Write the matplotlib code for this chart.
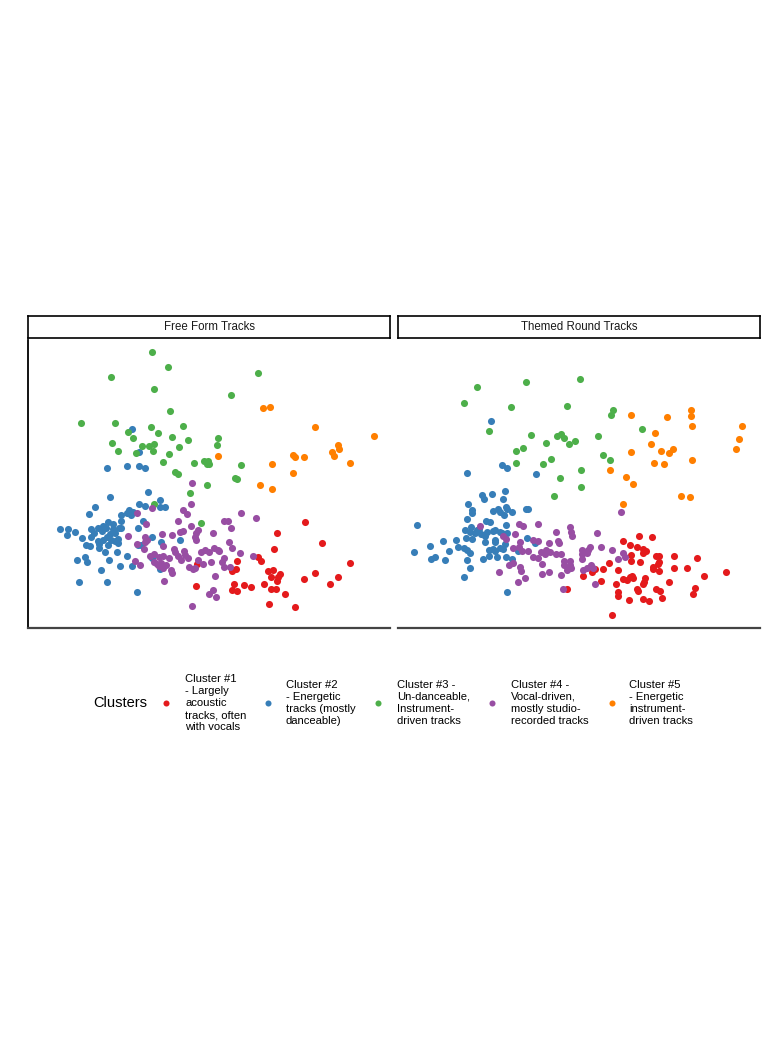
import numpy as np
import matplotlib
matplotlib.use("Agg")
import matplotlib.pyplot as plt

plt.rcParams['font.family'] = ['Liberation Sans', 'DejaVu Sans']

# cluster colours (Set1) and names
cluster_colors = ["#E41A1C", "#377EB8", "#4DAF4A", "#984EA3", "#FF7F00"]
cluster_labels = [
    "Cluster #1\n- Largely\nacoustic\ntracks, often\nwith vocals",
    "Cluster #2\n- Energetic\ntracks (mostly\ndanceable)",
    "Cluster #3 -\nUn-danceable,\nInstrument-\ndriven tracks",
    "Cluster #4 -\nVocal-driven,\nmostly studio-\nrecorded tracks",
    "Cluster #5\n- Energetic\ninstrument-\ndriven tracks",
]
panel_titles = ["Free Form Tracks", "Themed Round Tracks"]

# ---- Free Form Tracks (x, y) ----
free_c1 = [(169,64),(168,42),(277,106),(249,95),(294,85),(246,79),(230,71),(233,67),
           (209,67),(322,65),(208,59),(204,57),(240,57),(245,58),(252,54),(250,51),
           (249,47),(243,51),(287,55),(276,49),(310,51),(302,44),(206,44),(216,43),
           (223,41),(236,44),(204,38),(209,37),(243,39),(248,39),(257,34),(241,24),(267,21)]
free_c2 = [(104,199),(111,176),(79,160),(99,162),(111,162),(117,160),(120,136),(82,131),
           (132,128),(111,124),(117,122),(132,121),(137,121),(67,121),(61,114),(101,118),
           (99,115),(103,113),(105,116),(93,113),(93,107),(115,107),(80,106),(85,104),
           (75,102),(70,100),(32,99),(40,99),(39,93),(47,96),(63,99),(66,95),(74,97),
           (78,100),(85,99),(87,95),(91,100),(93,100),(82,94),(79,91),(75,88),(70,87),
           (54,90),(63,91),(62,82),(58,83),(71,84),(71,80),(80,83),(83,88),(87,87),
           (90,89),(90,85),(77,76),(89,76),(99,72),(110,83),(113,83),(110,100),(124,91),
           (133,86),(152,88),(57,71),(59,66),(49,68),(81,68),(124,70),(73,58),(92,62),
           (104,62),(132,59),(51,46),(79,46),(109,36)]
free_c3 = [(124,276),(140,261),(83,251),(126,239),(230,255),(203,233),(142,217),(53,205),
           (87,205),(123,201),(155,202),(100,196),(130,195),(105,190),(144,191),(160,188),
           (190,190),(189,183),(84,185),(114,182),(121,182),(126,184),(151,181),(90,177),
           (108,175),(125,177),(141,174),(135,166),(166,165),(176,167),(180,167),(179,164),
           (181,164),(213,163),(147,156),(150,154),(207,150),(209,149),(179,143),(162,135),
           (126,124),(173,105)]
free_c4 = [(164,145),(163,124),(109,115),(124,120),(155,118),(159,114),(150,107),(118,104),
           (163,102),(155,97),(152,96),(170,98),(168,95),(167,91),(168,88),(196,107),
           (200,107),(185,95),(134,94),(144,93),(100,92),(117,91),(119,88),(117,86),
           (109,84),(116,79),(135,82),(146,79),(147,76),(156,77),(173,76),(177,78),
           (181,76),(186,80),(190,78),(191,77),(122,72),(126,74),(131,71),(135,72),
           (141,70),(150,72),(153,68),(157,73),(160,70),(107,67),(112,63),(126,66),
           (129,64),(133,65),(138,63),(131,62),(135,60),(170,68),(175,64),(183,66),
           (196,70),(194,66),(196,61),(161,61),(165,59),(167,60),(143,58),(144,55),
           (136,47),(187,52),(185,38),(181,34),(188,31),(164,22),(213,115),(228,110),
           (203,100),(201,86),(204,80),(212,75),(225,72),(202,61)]
free_c5 = [(235,220),(242,221),(287,201),(346,192),(310,183),(311,179),(304,176),(306,172),
           (265,173),(267,171),(276,171),(322,165),(190,172),(244,164),(265,155),(232,143),
           (244,139)]

# ---- Themed Round Tracks (x, y) ----
themed_c1 = [(185,52),(194,56),(197,59),(169,39),(241,92),(254,91),(225,87),(232,83),
             (239,81),(245,79),(248,77),(245,75),(233,73),(233,67),(242,66),(211,65),
             (205,59),(220,58),(258,72),(261,72),(261,66),(260,64),(255,61),(255,59),
             (261,57),(276,72),(276,60),(289,60),(299,70),(328,56),(306,52),(203,47),
             (225,49),(229,48),(232,51),(235,50),(234,52),(247,50),(246,46),(245,44),
             (218,44),(271,46),(220,36),(220,32),(239,39),(240,37),(258,39),(262,37),
             (297,40),(295,34),(231,28),(245,29),(251,27),(264,30),(214,13)]
themed_c2 = [(93,207),(69,155),(104,163),(109,160),(138,154),(84,133),(86,129),(94,134),
             (107,137),(105,129),(70,124),(74,118),(74,115),(95,117),(100,119),(102,116),
             (106,113),(108,121),(109,119),(114,116),(128,119),(130,119),(69,109),(88,107),
             (92,106),(108,103),(73,101),(67,98),(72,96),(79,98),(81,99),(77,95),(83,94),
             (87,92),(89,96),(95,97),(97,98),(102,96),(104,95),(109,95),(68,90),(74,89),
             (87,86),(97,88),(97,86),(107,84),(19,103),(32,82),(45,87),(58,88),(60,81),
             (66,80),(69,78),(72,75),(51,77),(16,76),(37,71),(33,69),(47,68),(69,68),
             (85,69),(91,78),(95,79),(97,77),(91,72),(99,71),(102,80),(105,79),(108,71),
             (114,69),(120,77),(129,90),(137,85),(72,60),(66,51),(109,36)]
themed_c3 = [(79,241),(128,246),(182,249),(66,225),(113,221),(169,222),(215,218),(213,213),
             (244,199),(91,197),(133,193),(159,192),(163,194),(166,190),(177,187),(171,184),
             (200,192),(148,185),(125,180),(118,177),(205,173),(212,168),(153,169),(145,164),
             (118,165),(183,158),(162,150),(183,141),(156,132)]
themed_c4 = [(82,102),(105,92),(108,89),(121,104),(125,102),(140,104),(117,94),(122,86),
             (121,81),(115,80),(124,77),(130,77),(135,88),(140,87),(135,71),(140,70),
             (143,76),(148,78),(147,74),(152,76),(151,85),(160,87),(161,85),(158,96),
             (172,101),(173,96),(174,92),(163,74),(158,74),(144,64),(166,67),(172,67),
             (166,63),(172,63),(184,78),(184,74),(190,78),(192,81),(189,75),(184,69),
             (199,95),(193,63),(195,60),(111,63),(115,65),(122,61),(123,57),(101,56),
             (127,50),(120,46),(144,54),(151,56),(163,53),(169,58),(173,60),(185,58),
             (197,44),(165,39),(223,116),(203,81),(214,78),(225,75),(227,71),(220,69),
             (189,60)]
themed_c5 = [(233,213),(269,211),(293,218),(293,212),(294,202),(344,202),(341,189),(338,179),
             (257,195),(253,184),(263,177),(271,175),(275,179),(233,176),(256,165),(266,164),
             (294,168),(212,158),(228,151),(235,144),(283,132),(292,131),(225,124)]

panels = [
    [free_c1, free_c2, free_c3, free_c4, free_c5],
    [themed_c1, themed_c2, themed_c3, themed_c4, themed_c5],
]

W, H = 768, 1056
fig = plt.figure(figsize=(W / 100, H / 100), dpi=100)

def fx(px):
    return px / W

def fy(py):
    return 1 - py / H

panel_left = [28, 398]
panel_w = 362
top, bottom, strip_top = 340, 628, 316

for i, clusters in enumerate(panels):
    ax = fig.add_axes([fx(panel_left[i]), fy(bottom), panel_w / W, (bottom - top) / H])
    for pts, col in zip(clusters, cluster_colors):
        arr = np.array(pts)
        ax.scatter(arr[:, 0], arr[:, 1], s=26, color=col, linewidths=0, zorder=3)
    ax.set_xlim(0, 362)
    ax.set_ylim(0, 288)
    ax.set_xticks([])
    ax.set_yticks([])
    for sp in ["top", "right"]:
        ax.spines[sp].set_visible(False)
    ax.spines["bottom"].set_color("#444444")
    ax.spines["bottom"].set_linewidth(1.6)
    if i == 0:
        ax.spines["left"].set_color("black")
        ax.spines["left"].set_linewidth(1.3)
    else:
        ax.spines["left"].set_visible(False)

    # facet strip
    sax = fig.add_axes([fx(panel_left[i]), fy(top - 2), panel_w / W, (top - 2 - strip_top) / H])
    sax.set_xticks([])
    sax.set_yticks([])
    for sp in sax.spines.values():
        sp.set_color("black")
        sp.set_linewidth(1.2)
    sax.text(0.5, 0.5, panel_titles[i], ha="center", va="center", fontsize=8.3,
             color="#1a1a1a", transform=sax.transAxes)

# legend drawn in pixel space
lax = fig.add_axes([0, 0, 1, 1])
lax.set_xlim(0, W)
lax.set_ylim(H, 0)
lax.axis("off")
legend_y = 703
marker_x = [166, 268, 378, 492, 612]
text_x = [185, 286, 397, 511, 629]
lax.text(93, legend_y, "Clusters", fontsize=10.5, va="center", ha="left", color="black")
for mx, tx, col, lab in zip(marker_x, text_x, cluster_colors, cluster_labels):
    lax.scatter([mx], [legend_y], s=19, color=col, linewidths=0)
    lax.text(tx, legend_y, lab, fontsize=8.1, va="center", ha="left",
             linespacing=1.26, color="black")

fig.savefig("out.png", dpi=100, facecolor="white")
